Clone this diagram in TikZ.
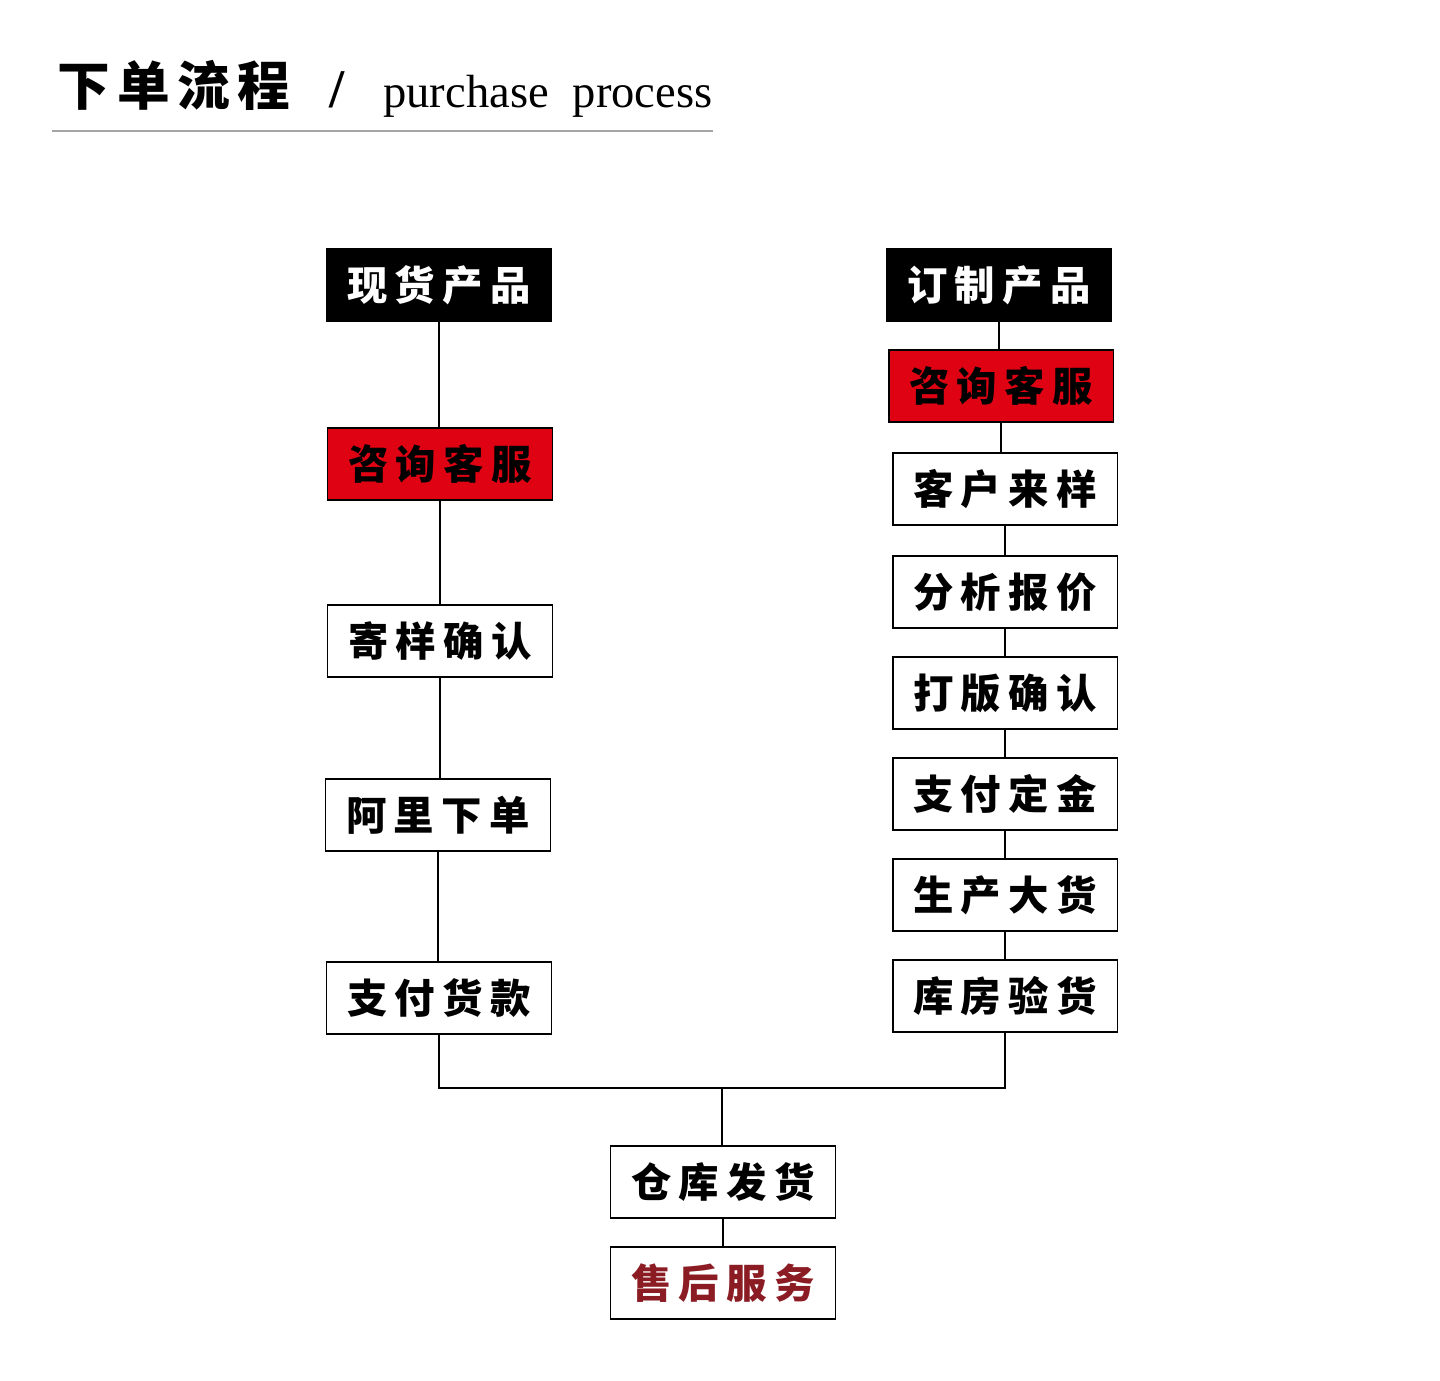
\documentclass[tikz,border=0pt]{standalone}
\usepackage{fontspec}
\setmainfont{Liberation Serif}
\newfontfamily\cjk{Noto Sans CJK SC}
\definecolor{boxred}{RGB}{222,2,18}
\definecolor{darkred}{RGB}{140,28,36}
\definecolor{rulegray}{RGB}{165,165,165}
\newcommand\four[4]{#1\hspace{4.2pt}#2\hspace{4.2pt}#3\hspace{4.2pt}#4}
\begin{document}
\begin{tikzpicture}[x=0.02cm,y=-0.02cm,
		box/.style={draw,line width=1.1pt,fill=white,minimum width=4.5cm,minimum height=1.44cm,
			inner sep=0pt,font=\cjk\bfseries\fontsize{23}{23}\selectfont},
		darkbox/.style={box,fill=black,text=white},
		redbox/.style={box,fill=boxred}]
	\useasboundingbox (0,0) rectangle (1440,1381);
	% title
	\node[anchor=west,font=\cjk\bfseries\fontsize{30}{30}\selectfont,inner sep=0pt] (ttl) at (57,85) {\four{下}{单}{流}{程}};
	\node[anchor=base west,font=\bfseries\fontsize{31}{31}\selectfont,inner sep=0pt] (sl) at (329,108) {/};
	\node[anchor=base west,font=\fontsize{26.5}{26.5}\selectfont,inner sep=0pt] (eng) at (383,108) {purchase\hspace{7pt} process};
	\draw[rulegray,line width=0.8pt] (52,131) -- (713,131);
	% left column
	\node[darkbox] (l1) at (439,285) {\four{现}{货}{产}{品}};
	\node[redbox] (l2) at (440,464) {\four{咨}{询}{客}{服}};
	\node[box] (l3) at (440,641) {\four{寄}{样}{确}{认}};
	\node[box] (l4) at (438,815) {\four{阿}{里}{下}{单}};
	\node[box] (l5) at (439,998) {\four{支}{付}{货}{款}};
	% right column
	\node[darkbox] (r1) at (999,285) {\four{订}{制}{产}{品}};
	\node[redbox] (r2) at (1001,386) {\four{咨}{询}{客}{服}};
	\node[box] (r3) at (1005,489) {\four{客}{户}{来}{样}};
	\node[box] (r4) at (1005,592) {\four{分}{析}{报}{价}};
	\node[box] (r5) at (1005,693) {\four{打}{版}{确}{认}};
	\node[box] (r6) at (1005,794) {\four{支}{付}{定}{金}};
	\node[box] (r7) at (1005,895) {\four{生}{产}{大}{货}};
	\node[box] (r8) at (1005,996) {\four{库}{房}{验}{货}};
	% bottom
	\node[box] (ship) at (723,1182) {\four{仓}{库}{发}{货}};
	\node[box,text=darkred] (after) at (723,1283) {\four{售}{后}{服}{务}};
	\coordinate (jn) at (722,1088);
	% lines
	\begin{scope}[line width=1.1pt]
		\draw (l1.south) -- (l1.south |- l2.north);
		\draw (l2.south) -- (l2.south |- l3.north);
		\draw (l3.south) -- (l3.south |- l4.north);
		\draw (l4.south) -- (l4.south |- l5.north);
		\draw (r1.south) -- (r1.south |- r2.north);
		\draw (r2.south) -- (r2.south |- r3.north);
		\draw (r3.south) -- (r3.south |- r4.north);
		\draw (r4.south) -- (r4.south |- r5.north);
		\draw (r5.south) -- (r5.south |- r6.north);
		\draw (r6.south) -- (r6.south |- r7.north);
		\draw (r7.south) -- (r7.south |- r8.north);
		\draw (l5.south) |- (jn) -| (r8.south);
		\draw (jn) -- (jn |- ship.north);
		\draw (ship.south) -- (ship.south |- after.north);
	\end{scope}
\end{tikzpicture}
\end{document}
